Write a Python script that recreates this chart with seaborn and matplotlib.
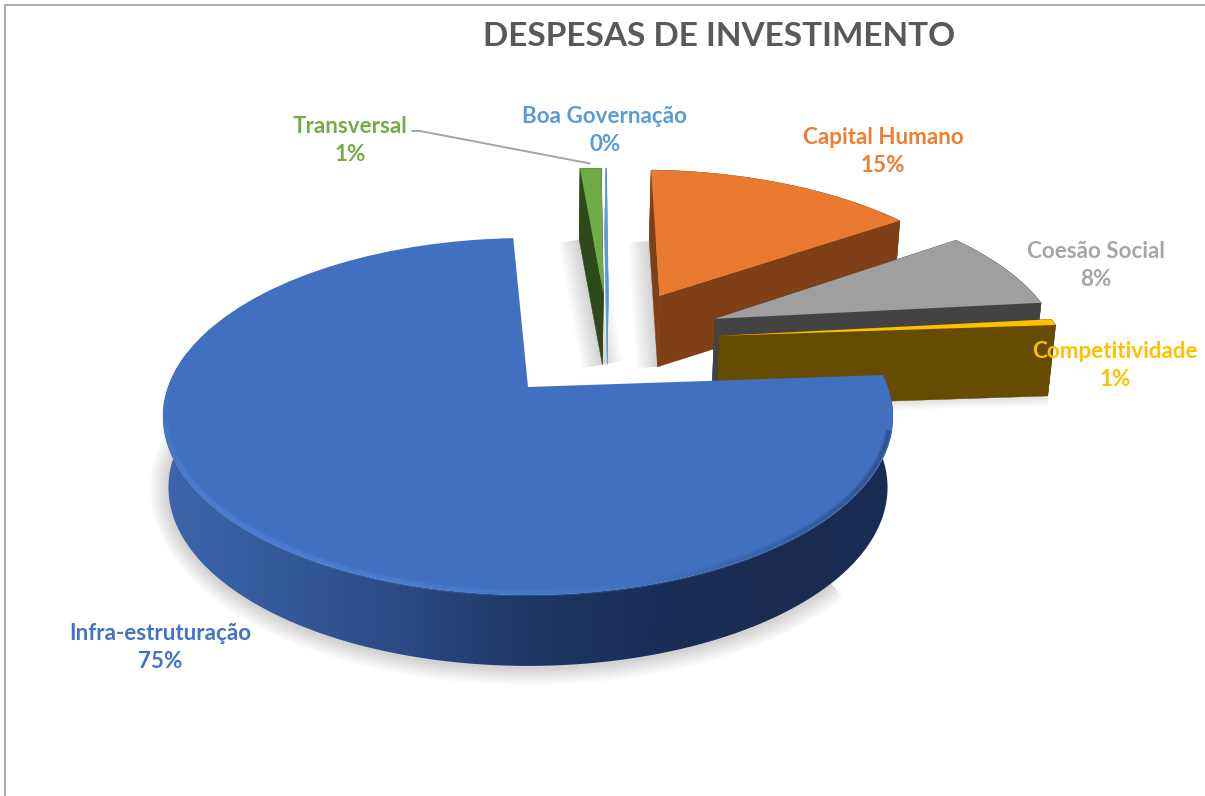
import numpy as np
import matplotlib
matplotlib.use("Agg")
import matplotlib.pyplot as plt
from matplotlib.colors import LinearSegmentedColormap
from matplotlib.collections import LineCollection
from matplotlib.patches import Polygon, Rectangle
from matplotlib.transforms import Affine2D, Transform
import seaborn as sns

# ---- data (pie shares in %, clockwise from the right edge of the big slice)
categories = ["Infra-estruturação", "Transversal", "Boa Governação",
              "Capital Humano", "Coesão Social", "Competitividade"]
shares = [75.35, 1.2, 0.05, 15, 7.8, 0.6]
title = "DESPESAS DE INVESTIMENTO"

# ---- styles
face_colors = ["#4070bf", "#6fac46", "#5b9bd5", "#e97a30", "#9f9f9f", "#ffc000"]
wall_colors = ["#2b4a84", "#2e4a1b", "#5b9bd5", "#7f3f17", "#434343", "#664c00"]
text_colors = ["#4472c4", "#70ad47", "#5b9bd5", "#ed7d31", "#a5a5a5", "#ffc000"]
slice_offsets = [(0, 0), (0.23, 0.59), (0.245, 0.59), (0.40, 0.575), (0.555, 0.42), (0.56, 0.31)]
label_centers = [(160, 647.5), (350, 140.5), (605, 130.5), (883, 151.5), (1096, 265.5), (1115, 365.5)]
paint_order = [1, 2, 3, 4, 5, 0]
START = 4.0
CX, CY, SX, A, B = 528.0, 387.0, 360.0, 173.6, 0.165
DEPTH, SHRINK = 71.0, 0.985

sns.set_theme(style="white")
plt.rcParams["font.family"] = ["Lato", "DejaVu Sans"]


def project(xy):
    xy = np.asarray(xy, float)
    w = 1 + B * xy[..., 1]
    return np.stack([CX + SX * xy[..., 0] / w, CY - A * xy[..., 1] / w], axis=-1)


class Perspective(Transform):
    input_dims = output_dims = 2
    is_separable = False
    has_inverse = False

    def transform_non_affine(self, values):
        return project(values)


def arc(theta1, theta2, offset, n=120, r=1.0):
    t = np.radians(np.linspace(theta1, theta2, n))
    return project(np.column_stack([r * np.cos(t) + offset[0], r * np.sin(t) + offset[1]]))


def drop(pts):
    out = np.array(pts, float)
    out[:, 0] = CX + (out[:, 0] - CX) * SHRINK
    out[:, 1] += DEPTH
    return out


def soft(ax, pts, z, clip=None, strength=0.018, widest=26):
    for lw in np.linspace(3, widest, 9):
        ln, = ax.plot(pts[:, 0], pts[:, 1], color="black", lw=lw, alpha=strength,
                      solid_capstyle="butt", zorder=z)
        if clip is not None:
            ln.set_clip_path(clip)


fig = plt.figure(figsize=(12.05, 7.96), dpi=100, facecolor="white")
ax = fig.add_axes([0, 0, 1, 1])
wedges, _ = ax.pie(shares, startangle=START, counterclock=False, radius=1,
                   colors=face_colors, wedgeprops={"linewidth": 0})
ax.set_aspect("auto")
ax.set_xlim(0, 1205)
ax.set_ylim(796, 0)
ax.axis("off")

persp = Perspective()
for rank, i in enumerate(paint_order):
    w = wedges[i]
    off = slice_offsets[i]
    z = 3 + 2 * rank
    w.set_transform(Affine2D().translate(*off) + persp + ax.transData)
    w.set_zorder(z + 1)
    apex = project(np.array(off, float))[None, :]
    top = arc(w.theta1, w.theta2, off)
    if i == 0:
        continue
    low = drop(top)
    low_apex = drop(apex)
    for poly in (np.vstack([top, low[::-1]]),
                 np.vstack([apex, top[:1], low[:1], low_apex]),
                 np.vstack([apex, top[-1:], low[-1:], low_apex])):
        ax.fill(poly[:, 0], poly[:, 1], color=wall_colors[i], lw=0.3, zorder=z)

# big slice: gradient wall
blue = wedges[0]
top = arc(max(blue.theta1, -192), blue.theta2, (0, 0), 300)
low = drop(top)
wall = Polygon(np.vstack([top, low[::-1]]), closed=True, transform=ax.transData)
cmap = LinearSegmentedColormap.from_list(
    "wall", ["#3c66ac", "#34599a", "#2b4a84", "#1f3766", "#1a2e58", "#192c50", "#1a2d52"])
im = ax.imshow(np.linspace(0, 1, 400)[None, :], cmap=cmap, aspect="auto",
               extent=(low[:, 0].min() - 8, top[:, 0].max() + 1, low[:, 1].max() + 2, top[:, 1].min() - 2),
               zorder=13, interpolation="bilinear")
im.set_clip_path(wall)
ax.set_xlim(0, 1205)
ax.set_ylim(796, 0)

# bevel along the front rim of the big slice
rim = arc(-176, -14, (0, 0), 300, r=0.992)
segs = np.stack([rim[:-1], rim[1:]], axis=1)
rim_cmap = LinearSegmentedColormap.from_list(
    "rim", ["#4474c4", "#4c80d6", "#4c80d6", "#4476c4", "#345a9c", "#2c4c88"])
for lw, alpha in ((5, 0.35), (2.5, 0.8)):
    lc = LineCollection(segs, cmap=rim_cmap, linewidths=lw, alpha=alpha, zorder=15, capstyle="butt")
    lc.set_array(np.linspace(0, 1, len(segs)))
    ax.add_collection(lc)

# soft shadows
soft(ax, drop(arc(-192, -40, (0, 0), 200)) + [0, 1], 1)
gap = Rectangle((520, 230), 140, 150, transform=ax.transData)
for i in (1, 3):
    w = wedges[i]
    off = slice_offsets[i]
    edge = np.vstack([arc(w.theta2, w.theta2, off, 2)[:1], project(np.array(off, float))[None, :]])
    soft(ax, drop(edge), 2, clip=gap, strength=0.02, widest=30)
yellow = wedges[5]
edge = np.vstack([arc(yellow.theta1, yellow.theta1, slice_offsets[5], 2)[:1],
                  project(np.array(slice_offsets[5], float))[None, :]])
soft(ax, drop(edge), 2, strength=0.012, widest=14)

# frame, title, labels, leader line
ax.plot([5, 5, 1205], [796, 5, 5], color="#9c9c9c", lw=1.2, zorder=1, solid_joinstyle="miter")
ax.text(719, 37, title, ha="center", va="center", fontsize=24, fontweight="bold", color="#595959", zorder=30)
for name, share, color, (tx, ty) in zip(categories, shares, text_colors, label_centers):
    ax.text(tx, ty, f"{name}\n{round(share)}%", ha="center", va="center", fontsize=16.1,
            fontweight="bold", color=color, linespacing=1.4, zorder=30)
ax.plot([412, 420, 590], [131, 131, 163.5], color="#a6a6a6", lw=1.4, zorder=30)

fig.savefig("out.png", dpi=100, facecolor="white")
